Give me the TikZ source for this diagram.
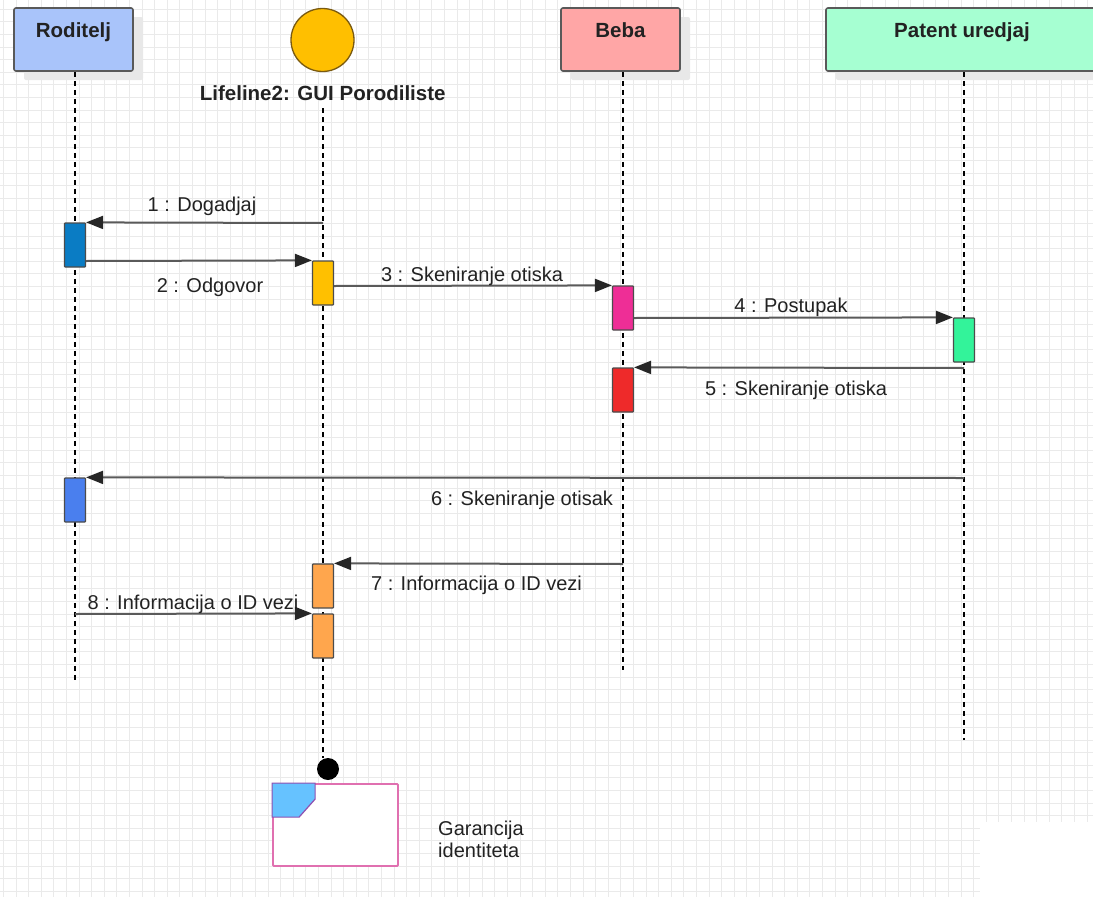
\documentclass[tikz,border=0pt]{standalone}
\usepackage{fontspec}
\setmainfont{Liberation Sans}
\usetikzlibrary{arrows.meta,shadows}
\definecolor{gridc}{HTML}{EAEAEA}
\definecolor{rodc}{HTML}{A9C4FA}
\definecolor{bebac}{HTML}{FFA6A6}
\definecolor{patc}{HTML}{A6FFD2}
\definecolor{guic}{HTML}{FFBF00}
\definecolor{guiborder}{HTML}{7A5A10}
\definecolor{msgc}{HTML}{5A5A5A}
\definecolor{txtc}{HTML}{222222}
\definecolor{actA}{HTML}{0A7CC4}
\definecolor{actB}{HTML}{FFC000}
\definecolor{actC}{HTML}{EE2E96}
\definecolor{actD}{HTML}{33F39A}
\definecolor{actE}{HTML}{EE2A2A}
\definecolor{actF}{HTML}{4A7FEE}
\definecolor{actG}{HTML}{FFA64D}
\definecolor{objborder}{HTML}{E070B0}
\definecolor{cornerc}{HTML}{66C2FF}
\definecolor{cornerb}{HTML}{9050B0}
\begin{document}
\begin{tikzpicture}[x=1pt,y=-1pt,
  headbox/.style={draw=black!65,line width=1.6pt,rounded corners=2pt,minimum width=119pt,minimum height=63pt,
    text height=15pt,text depth=20pt,font=\fontsize{20.5}{24}\selectfont\bfseries,text=txtc,
    drop shadow={shadow xshift=10pt,shadow yshift=-9pt,fill=black!9,opacity=1}},
  lifeline/.style={black,line width=1.6pt,dash pattern=on 5pt off 4pt},
  actbox/.style={draw=black!70,line width=1.2pt,minimum width=21pt,minimum height=44pt,inner sep=0pt,rounded corners=0.8pt},
  msg/.style={msgc,line width=2pt,-{Triangle[length=17pt,width=13pt,color=black!85]}},
  lbl/.style={font=\fontsize{20}{24}\selectfont,text=txtc,anchor=base,inner sep=0pt},
]
\useasboundingbox (0,0) rectangle (1093,897);
\clip (0,0) rectangle (1093,897);
\fill[white] (0,0) rectangle (1093,897);
% grid
\foreach \i in {0,...,87} \draw[gridc,line width=0.9pt] (3.4+12.6*\i,0) -- (3.4+12.6*\i,897);
\foreach \j in {0,...,71} \draw[gridc,line width=0.9pt] (0,9.2+12.6*\j) -- (1093,9.2+12.6*\j);
\fill[white] (980,822) rectangle (1093,897);

% heads
\node[headbox,fill=rodc] (rod) at (73.5,39.5) {Roditelj};
\node[circle,draw=guiborder,line width=1.3pt,fill=guic,minimum size=63pt,inner sep=0pt] (gui) at (322.5,40) {};
\node[lbl,font=\fontsize{20.5}{24}\selectfont\bfseries] (guilbl) at (322.7,100) {Lifeline2: GUI Porodiliste};
\node[headbox,fill=bebac] (beba) at (620.5,39.5) {Beba};
\node[headbox,fill=patc,minimum width=272pt] (pat) at (962,39.5) {Patent uredjaj};

% lifelines
\coordinate (rodend) at (75,680);
\coordinate (guitop) at (323,108);
\coordinate (guiend) at (323,758);
\coordinate (bebaend) at (623,670);
\coordinate (patend) at (964,740);
\draw[lifeline] (rod.south -| rodend) -- (rodend);
\draw[lifeline] (guitop) -- (guiend);
\draw[lifeline] (beba.south -| bebaend) -- (bebaend);
\draw[lifeline] (pat.south -| patend) -- (patend);

% activations
\node[actbox,fill=actA] (r1) at (75,245) {};
\node[actbox,fill=actB] (g1) at (323,283) {};
\node[actbox,fill=actC] (b1) at (623,308) {};
\node[actbox,fill=actD] (p1) at (964,340) {};
\node[actbox,fill=actE] (b2) at (623,390) {};
\node[actbox,fill=actF] (r2) at (75,500) {};
\node[actbox,fill=actG] (g2) at (323,586) {};
\node[actbox,fill=actG] (g3) at (323,636) {};

% message start points
\coordinate (m1s) at (323,223);
\coordinate (m5s) at (964,368);
\coordinate (m6s) at (964,478);
\coordinate (m7s) at (623,564);
\coordinate (m8s) at (75,614);

\draw[msg] (m1s) -- (r1.north east);
\draw[msg] (r1.east |- 0,261) -- (g1.north west);
\draw[msg] (g1.east |- 0,286) -- (b1.north west);
\draw[msg] (b1.east |- 0,318) -- (p1.north west);
\draw[msg] (m5s) -- (b2.north east);
\draw[msg] (m6s) -- (r2.north east);
\draw[msg] (m7s) -- (g2.north east);
\draw[msg] (m8s) -- (g3.north west);

% labels
\node[lbl] (l1) at (202,211) {1 : Dogadjaj};
\node[lbl] (l2) at (210,292) {2 : Odgovor};
\node[lbl] (l3) at (472,281) {3 : Skeniranje otiska};
\node[lbl] (l4) at (791,312) {4 : Postupak};
\node[lbl] (l5) at (796,395) {5 : Skeniranje otiska};
\node[lbl] (l6) at (522,505) {6 : Skeniranje otisak};
\node[lbl] (l7) at (476.5,590) {7 : Informacija o ID vezi};
\node[lbl] (l8) at (193,609) {8 : Informacija o ID vezi};

% end dot and object
\node[circle,fill=black,minimum size=22pt,inner sep=0pt] (dot) at (328,769) {};
\node[draw=objborder,line width=1.8pt,fill=white,minimum width=125pt,minimum height=82pt,rounded corners=1pt] (obj) at (335.5,825) {};
\draw[cornerb,line width=1.2pt,fill=cornerc] (obj.north west) -- ++(43,0) -- ++(0,16) -- ++(-16,18) -- ++(-27,0) -- cycle;
\node[lbl,anchor=north west,align=left,font=\fontsize{20}{22}\selectfont] (objlbl) at (438,821) {Garancija\\identiteta};
\end{tikzpicture}
\end{document}
